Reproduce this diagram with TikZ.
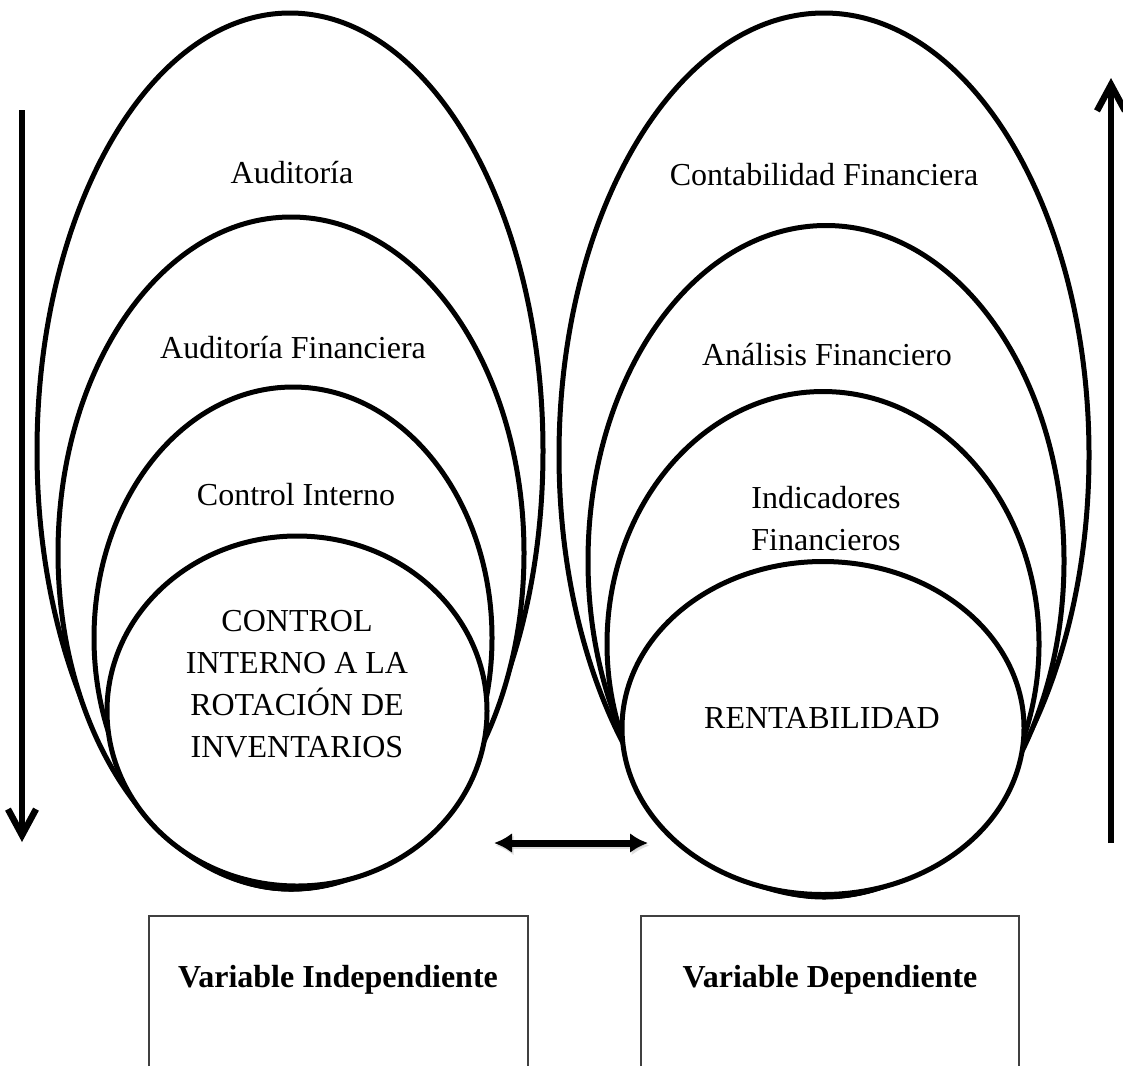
\documentclass[tikz,border=0pt]{standalone}
\usepackage{fontspec}
\setmainfont{Liberation Serif}
\usetikzlibrary{shapes.geometric,arrows.meta}

\begin{document}
\begin{tikzpicture}[x=1pt,y=-1pt,
  shell/.style={draw=black, fill=white, ellipse, line width=5pt,
                inner sep=0pt, outer sep=0pt},
  txt/.style={font=\fontsize{32}{42}\selectfont, align=center, inner sep=0pt},
  boldtxt/.style={font=\fontsize{32}{42}\selectfont\bfseries, align=center, inner sep=0pt},
  boxline/.style={draw=black!75, line width=1.3pt},
  flow/.style={line width=6.5pt, -{Straight Barb[length=26pt,width=28pt]}},
  link/.style={line width=7pt, {Latex[length=18pt,width=20pt]}-{Latex[length=18pt,width=20pt]}},
]
\useasboundingbox (0,0) rectangle (1123,1066);

% ---- independent variable: nested ellipses, outermost first ----
\node[shell, minimum width=506pt, minimum height=876pt] (aud)  at (290,451) {};
\node[shell, minimum width=466pt, minimum height=672pt] (audf) at (291,553) {};
\node[shell, minimum width=398pt, minimum height=502pt] (ci)   at (293,638) {};
\node[shell, minimum width=380pt, minimum height=350pt] (cri)  at (297,711) {};

\node[txt] (t-aud)  at (292,173) {Auditoría};
\node[txt] (t-audf) at (293,348) {Auditoría Financiera};
\node[txt] (t-ci)   at (296,495) {Control Interno};
\node[txt] (t-cri)  at (297,684) {CONTROL\\INTERNO A LA\\ROTACIÓN DE\\INVENTARIOS};

% ---- dependent variable: nested ellipses, outermost first ----
\node[shell, minimum width=530pt, minimum height=884pt] (cf)  at (824,455) {};
\node[shell, minimum width=476pt, minimum height=671pt] (af)  at (826,561) {};
\node[shell, minimum width=432pt, minimum height=505pt] (if)  at (823,644) {};
\node[shell, minimum width=402pt, minimum height=333pt] (ren) at (823,728) {};

\node[txt] (t-cf)  at (824,175) {Contabilidad Financiera};
\node[txt] (t-af)  at (827,355) {Análisis Financiero};
\node[txt] (t-if)  at (826,519) {Indicadores\\Financieros};
\node[txt] (t-ren) at (822,718) {RENTABILIDAD};

% ---- direction arrows ----
\coordinate (down-start) at (22,110);
\coordinate (down-end)   at (22,842);
\coordinate (up-start)   at (1111,843);
\coordinate (up-end)     at (1111,78);
\draw[flow] (down-start) -- (down-end);
\draw[flow] (up-start) -- (up-end);

% ---- relation between the two variables ----
\coordinate (rel-l) at (494,843);
\coordinate (rel-r) at (648,843);
\draw[link, draw=black!25, fill=black!25, opacity=0.5, transform canvas={shift={(1.5pt,-2.5pt)}}] (rel-l) -- (rel-r);
\draw[link] (rel-l) -- (rel-r);

% ---- variable labels (boxes open at the lower edge) ----
\coordinate (bl-a) at (149,1066);
\coordinate (bl-b) at (149,916);
\coordinate (bl-c) at (528,916);
\coordinate (bl-d) at (528,1066);
\draw[boxline] (bl-a) -- (bl-b) -- (bl-c) -- (bl-d);
\node[boldtxt] (vi) at (338,980) {Variable Independiente};

\coordinate (br-a) at (641,1066);
\coordinate (br-b) at (641,916);
\coordinate (br-c) at (1019,916);
\coordinate (br-d) at (1019,1066);
\draw[boxline] (br-a) -- (br-b) -- (br-c) -- (br-d);
\node[boldtxt] (vd) at (830,980) {Variable Dependiente};
\end{tikzpicture}
\end{document}
